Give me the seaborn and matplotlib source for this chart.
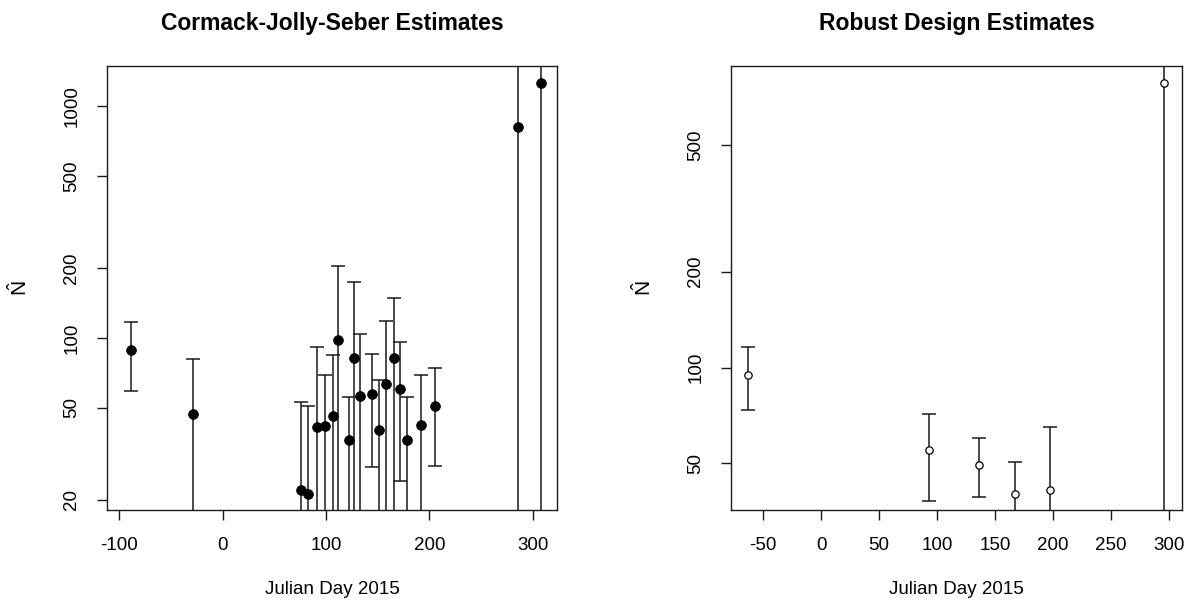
import numpy as np
import pandas as pd
import matplotlib
matplotlib.use("Agg")
import matplotlib.pyplot as plt
import seaborn as sns

# ---- data: Cormack-Jolly-Seber ----
cjs_day = [-89, -29, 76, 83, 91, 99, 107, 112, 122, 127, 133, 144.5, 151.6, 158.4,
           165.5, 171.3, 178.4, 192.3, 205.2, 285.6, 307.8]
cjs_n = [88.7, 47, 22.1, 21.3, 41.2, 41.7, 45.9, 98, 36.2, 81.6, 56.2, 57.1, 40.2, 63.5,
         81.6, 60.4, 36.2, 42.2, 51, 814, 1257]
cjs_lo = [59, 5, 5, 5, 5, 5, 5, 5, 5, 5, 5, 27.8, 5, 5,
          5, 24.2, 5, 5, 28.1, 5, 5]
cjs_hi = [116.8, 81.4, 53, 51, 91, 69.2, 84.6, 204.8, 55.5, 173.7, 103.7, 85.5, 65.8, 118.7,
          148.6, 96.3, 55.5, 69.2, 74.2, 50000, 50000]

# ---- data: Robust Design ----
rd_day = [-63.2, 92.8, 136.5, 167.5, 197.4, 295.4]
rd_n = [94.9, 55.0, 49.5, 40.2, 41.2, 781]
rd_lo = [73.7, 38.2, 39.2, 5, 5, 5]
rd_hi = [115.9, 71.4, 60.0, 50.4, 64.9, 50000]

left_xticks = [-100, 0, 100, 200, 300]
left_yticks = [20, 50, 100, 200, 500, 1000]
right_xticks = [-50, 0, 50, 100, 150, 200, 250, 300]
right_yticks = [50, 100, 200, 500]

sns.set_style("white")
plt.rcParams['font.family'] = ['Liberation Sans', 'DejaVu Sans']
plt.rcParams['mathtext.fontset'] = 'custom'
plt.rcParams['mathtext.rm'] = 'Liberation Sans'
plt.rcParams['mathtext.it'] = 'Liberation Sans'
for k in ['text.color', 'axes.labelcolor', 'xtick.color', 'ytick.color', 'axes.edgecolor']:
    plt.rcParams[k] = 'black'

fig = plt.figure(figsize=(11.9, 6.09), dpi=100)
W, H = 1190, 609
axL = fig.add_axes([107 / W, 1 - 510 / H, (557 - 107) / W, (510 - 66) / H])
axR = fig.add_axes([731 / W, 1 - 510 / H, (1182 - 731) / W, (510 - 66) / H])

capsize = 4.7
lc = '#1a1a1a'
FS = 13.5

def panel(ax, day, n, lo, hi, filled, xlim, ylim, xticks, yticks, title):
    df = pd.DataFrame({'day': day, 'n': n, 'lo': lo, 'hi': hi})
    ax.errorbar(df['day'], df['n'],
                yerr=[df['n'] - df['lo'], df['hi'] - df['n']],
                fmt='none', ecolor=lc, elinewidth=1.1, capsize=capsize, capthick=1.1)
    if filled:
        sns.scatterplot(data=df, x='day', y='n', ax=ax, color='black', s=50,
                        edgecolor='black', linewidth=0.5, zorder=3)
    else:
        sns.scatterplot(data=df, x='day', y='n', ax=ax, facecolor='white', s=28,
                        edgecolor='black', linewidth=0.9, zorder=3)
    ax.set_yscale('log')
    ax.set_xlim(*xlim)
    ax.set_ylim(*ylim)
    ax.set_xticks(xticks)
    ax.set_xticklabels([str(t) for t in xticks], fontsize=FS)
    ax.set_yticks(yticks)
    ax.set_yticklabels([str(t) for t in yticks], fontsize=FS, rotation=90, va='center')
    ax.yaxis.set_minor_locator(matplotlib.ticker.NullLocator())
    ax.tick_params(axis='both', direction='out', length=7.2, width=1, color='#1a1a1a',
                   left=True, bottom=True, pad=12)
    for s in ax.spines.values():
        s.set_visible(True)
        s.set_linewidth(1.0)
        s.set_color('#1a1a1a')
    ax.set_xlabel('Julian Day 2015', fontsize=FS, labelpad=20)
    ax.set_ylabel(r'$\hat{N}$', fontsize=15, labelpad=23)
    ax.set_title(title, fontsize=16.5, fontweight='bold', pad=26)

panel(axL, cjs_day, cjs_n, cjs_lo, cjs_hi, True, (-112, 323.6), (18.1, 1488),
      left_xticks, left_yticks, 'Cormack-Jolly-Seber Estimates')
panel(axR, rd_day, rd_n, rd_lo, rd_hi, False, (-77.6, 311), (35.7, 885),
      right_xticks, right_yticks, 'Robust Design Estimates')

fig.savefig('out.png', dpi=100)
